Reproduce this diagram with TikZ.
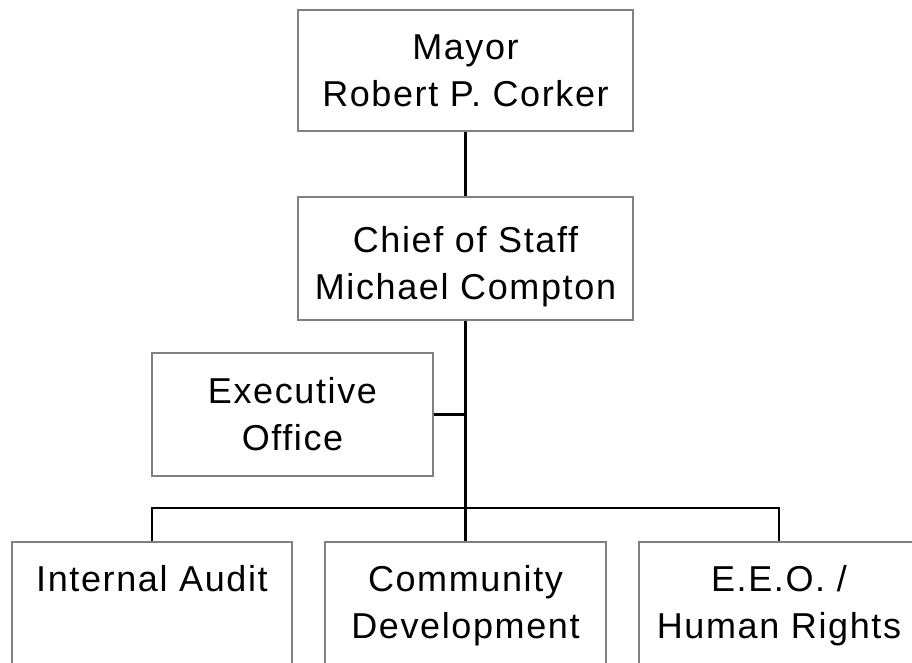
\documentclass[tikz,border=0pt]{standalone}
\usepackage{fontspec}
\setmainfont{Liberation Sans}[LetterSpace=4.5]
\begin{document}
\begin{tikzpicture}[x=1pt,y=-1pt,
  box/.style={draw=black!50, line width=2pt, rectangle, inner sep=0pt, align=center,
    font=\fontsize{36}{47}\selectfont},
  link/.style={draw=black, line width=2.6pt},
  lbl/.style={inner sep=0pt, align=center, anchor=north, font=\fontsize{36}{47}\selectfont}]
\useasboundingbox (0,0) rectangle (912,662);
\clip (0,0) rectangle (912,662);
\fill[white] (0,0) rectangle (912,662);
\node[box, minimum width=335pt, minimum height=121pt] (mayor) at (465.5,70.5) {Mayor\\Robert P. Corker};
\node[box, minimum width=335pt, minimum height=123pt] (chief) at (465.5,258.5) {};
\node[lbl] (tchief) at ([yshift=-30.5pt]chief.north) {Chief of Staff\\Michael Compton};
\node[box, minimum width=281pt, minimum height=123pt] (exec) at (292.5,414.5) {Executive\\Office};
\node[box, minimum width=280pt, minimum height=150pt, anchor=north] (ia) at (152,541) {};
\node[box, minimum width=281pt, minimum height=150pt, anchor=north] (cd) at (465.5,541) {};
\node[box, minimum width=280pt, minimum height=150pt, anchor=north] (eeo) at (779,541) {};
\node[lbl] (tia) at ([yshift=-24pt]ia.north) {Internal Audit};
\node[lbl] (tcd) at ([yshift=-24pt]cd.north) {Community\\Development};
\node[lbl] (teeo) at ([yshift=-24pt]eeo.north) {E.E.O. /\\Human Rights};
\coordinate (bus) at (465.5,508);
\draw[link] (mayor.south) -- (chief.north);
\draw[link] (chief.south) -- (cd.north);
\draw[link] (exec.east) -- (exec.east -| chief.south);
\draw[link] (ia.north) |- (bus) -| (eeo.north);
\end{tikzpicture}
\end{document}
